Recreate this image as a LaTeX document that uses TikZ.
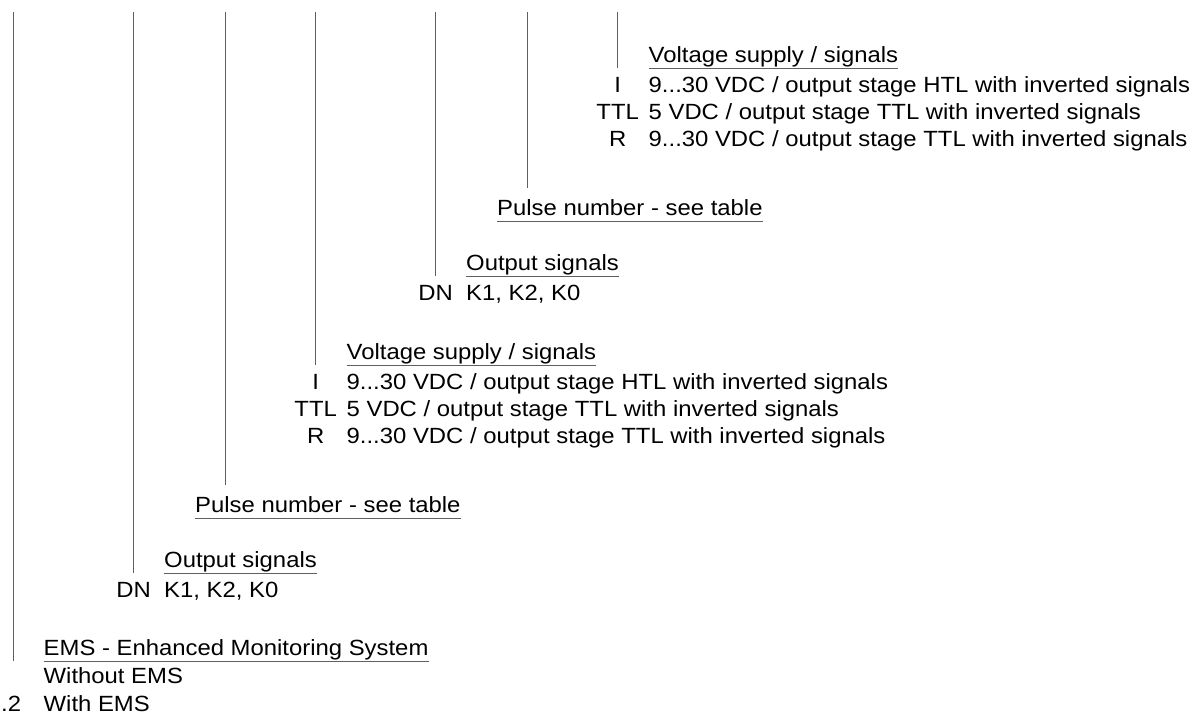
\documentclass[tikz,border=0pt]{standalone}
\usepackage{fontspec}
\setmainfont{Liberation Sans}[FakeStretch=1.085]
\definecolor{linegray}{RGB}{95,95,95}
\newcommand{\fs}{\fontsize{22}{26}\selectfont}
\tikzset{
  hdr/.style={anchor=base west, inner sep=0pt, font=\fs},
  lbl/.style={anchor=base west, inner sep=0pt, font=\fs},
  codelbl/.style={anchor=base, inner sep=0pt, font=\fs},
  rule/.style={draw=linegray, line width=0.9pt},
}
% one set of three groups: Output signals / Pulse number / Voltage supply
% #1 = name prefix, #2 = y of the top of the vertical lines (local coordinates)
\newcommand{\groupset}[2]{%
  % Output signals
  \coordinate (#1bt) at (133.7,#2);
  \node[hdr] (#1bh) at (164,567) {Output signals};
  \coordinate (#1bu) at ([yshift=-6pt]#1bh.base west);
  \draw[rule] (#1bu) -- ([yshift=-6pt]#1bh.base east);
  \draw[rule] (#1bt) -- (#1bt |- #1bu);
  \node[codelbl] (#1bc) at (133.7,597.5) {DN};
  \node[lbl] (#1bd) at (164,597.5) {K1, K2, K0};
  % Pulse number
  \coordinate (#1ct) at (225,#2);
  \node[hdr] (#1ch) at (195,512) {Pulse number - see table};
  \coordinate (#1cu) at ([yshift=-6pt]#1ch.base west);
  \coordinate (#1ce) at ([yshift=27pt]#1ch.base west);
  \draw[rule] (#1cu) -- ([yshift=-6pt]#1ch.base east);
  \draw[rule] (#1ct) -- (#1ct |- #1ce);
  % Voltage supply
  \coordinate (#1dt) at (315.7,#2);
  \node[hdr] (#1dh) at (346.5,359) {Voltage supply / signals};
  \coordinate (#1du) at ([yshift=-6pt]#1dh.base west);
  \draw[rule] (#1du) -- ([yshift=-6pt]#1dh.base east);
  \draw[rule] (#1dt) -- (#1dt |- #1du);
  \node[codelbl] (#1d1c) at (315.7,389) {I};
  \node[lbl] (#1d1d) at (346.5,389) {9...30 VDC / output stage HTL with inverted signals};
  \node[codelbl] (#1d2c) at (315.7,416) {TTL};
  \node[lbl] (#1d2d) at (346.5,416) {5 VDC / output stage TTL with inverted signals};
  \node[codelbl] (#1d3c) at (315.7,443) {R};
  \node[lbl] (#1d3d) at (346.5,443) {9...30 VDC / output stage TTL with inverted signals};
}
\begin{document}
\begin{tikzpicture}[x=1pt,y=-1pt]
  \useasboundingbox (0,0) rectangle (1192,720);
  % EMS group
  \coordinate (at) at (13.3,12);
  \node[hdr] (ah) at (43.5,655) {EMS - Enhanced Monitoring System};
  \coordinate (au) at ([yshift=-6pt]ah.base west);
  \draw[rule] (au) -- ([yshift=-6pt]ah.base east);
  \draw[rule] (at) -- (at |- au);
  \node[lbl] (a1d) at (43.5,683) {Without EMS};
  \node[lbl] (a2c) at (1,711) {.2};
  \node[lbl] (a2d) at (43.5,711) {With EMS};
  % lower groups
  \groupset{l}{12}
  % upper groups
  \begin{scope}[shift={(302,-297)}]
    \groupset{u}{309}
  \end{scope}
\end{tikzpicture}
\end{document}
